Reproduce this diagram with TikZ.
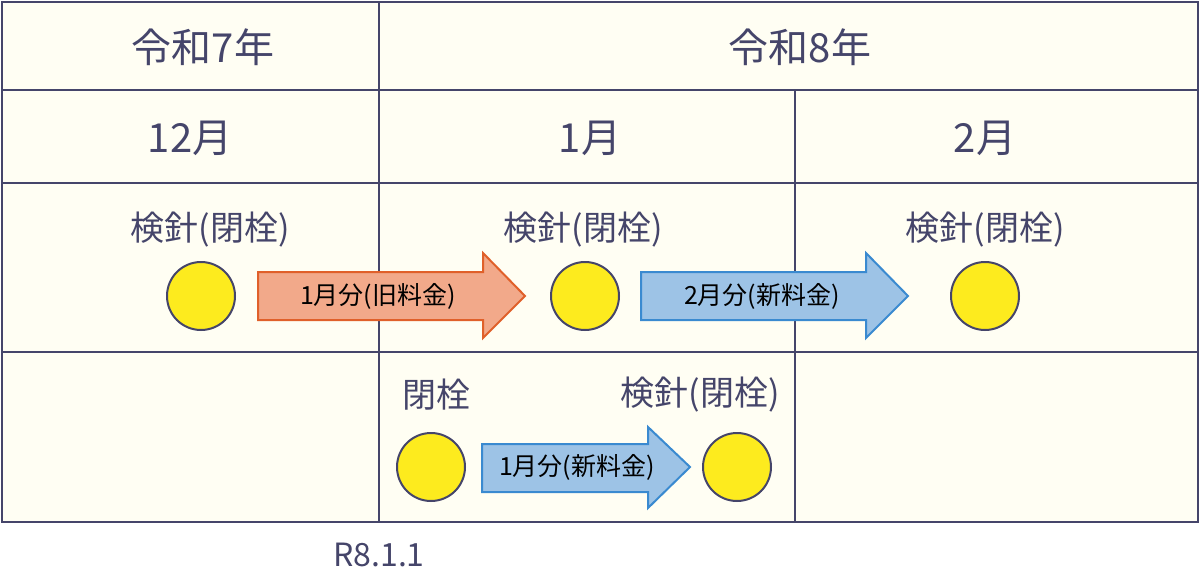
\documentclass[tikz,border=0pt]{standalone}
\usepackage{fontspec}
\setmainfont{Noto Sans CJK JP}
\definecolor{bg}{HTML}{FFFEF3}
\definecolor{ln}{HTML}{45456A}
\definecolor{yel}{HTML}{FDEB1E}
\definecolor{ofill}{HTML}{F2A98A}
\definecolor{oline}{HTML}{E0602A}
\definecolor{bfill}{HTML}{9DC3E6}
\definecolor{bline}{HTML}{3A8AD0}
\tikzset{
 head/.style={text=ln,font=\fontsize{40}{40}\selectfont},
 lab/.style={text=ln,font=\fontsize{34}{34}\selectfont},
 arr/.style={font=\fontsize{25}{25}\selectfont,text=black},
 meter/.style={circle,draw=ln,line width=2pt,fill=yel,minimum size=68pt,inner sep=0pt},
}
\begin{document}
\begin{tikzpicture}[x=1pt,y=-1pt]
\useasboundingbox (0,0) rectangle (1200,584);
\fill[bg] (2,2) rectangle (1198,522);
\begin{scope}[draw=ln,line width=2.5pt]
\draw (2,2) rectangle (1198,522);
\draw (2,90) -- (1198,90);
\draw (2,183) -- (1198,183);
\draw (2,352) -- (1198,352);
\draw (379,2) -- (379,522);
\draw (795,90) -- (795,522);
\end{scope}
\node[head] (y7) at (203,47) {令和7年};
\node[head] (y8) at (800,47) {令和8年};
\node[head] (m12) at (190,138) {12月};
\node[head] (m1) at (590,138) {1月};
\node[head] (m2) at (985,138) {2月};
\node[lab] (l1) at (210,230) {検針(閉栓)};
\node[lab] (l2) at (583,230) {検針(閉栓)};
\node[lab] (l3) at (985,230) {検針(閉栓)};
\node[lab] (l4) at (436,395) {閉栓};
\node[lab] (l5) at (700,395) {検針(閉栓)};
\node[meter] (c1) at (201,296) {};
\node[meter] (c2) at (585,296) {};
\node[meter] (c3) at (985,296) {};
\node[meter] (c4) at (431,467) {};
\node[meter] (c5) at (737,467) {};
\draw[fill=ofill,draw=oline,line width=2pt] (258,272)--(483,272)--(483,253)--(525,296)--(483,338)--(483,320)--(258,320)--cycle;
\node[arr] (a1) at (378,296) {1月分(旧料金)};
\draw[fill=bfill,draw=bline,line width=2pt] (641,272)--(866,272)--(866,253)--(908,296)--(866,338)--(866,320)--(641,320)--cycle;
\node[arr] (a2) at (762,296) {2月分(新料金)};
\draw[fill=bfill,draw=bline,line width=2pt] (482,444)--(648,444)--(648,427)--(690,467)--(648,508)--(648,492)--(482,492)--cycle;
\node[arr] (a3) at (577,467) {1月分(新料金)};
\node[text=ln,font=\fontsize{32}{32}\selectfont] (d) at (379,555) {R8.1.1};
\end{tikzpicture}
\end{document}
